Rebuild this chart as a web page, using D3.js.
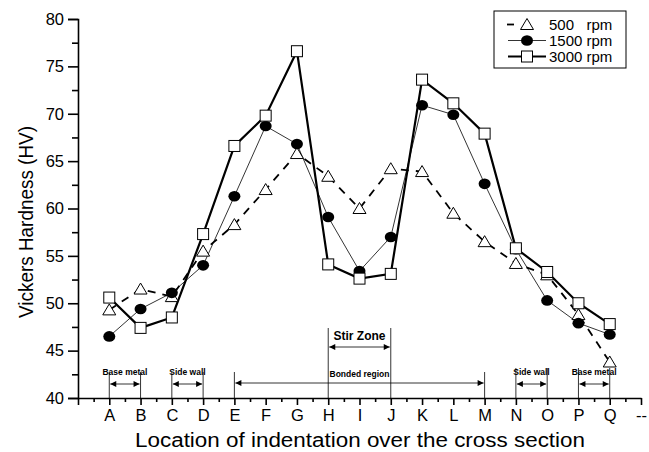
<!DOCTYPE html>
<html>
<head>
<meta charset="utf-8">
<script src="https://cdn.jsdelivr.net/npm/d3@7"></script>
<style>
  body { margin: 0; background: #fff; }
  svg { font-family: "Liberation Sans", Arial, sans-serif; }
  .note { font-weight: bold; }
</style>
</head>
<body>
<svg id="chart" width="649" height="452"></svg>
<script>
const locations = ['A','B','C','D','E','F','G','H','I','J','K','L','M','N','O','P','Q'];
const xTickLabels = ['', ...locations, '--'];
const rpm500 = [49.3, 51.5, 50.7, 55.5, 58.3, 62.0, 65.8, 63.4, 60.0, 64.2, 63.9, 59.5, 56.5, 54.2, 53.0, 48.8, 43.8];
const rpm1500 = [46.5, 49.4, 51.1, 54.0, 61.3, 68.7, 66.8, 59.1, 53.4, 57.0, 70.9, 69.9, 62.6, 55.7, 50.3, 47.9, 46.7];
const rpm3000 = [50.6, 47.4, 48.5, 57.3, 66.6, 69.8, 76.6, 54.1, 52.6, 53.1, 73.6, 71.1, 67.9, 55.8, 53.3, 50.0, 47.8];
const seriesNames = ['500   rpm', '1500 rpm', '3000 rpm'];
const yTicks = [40, 45, 50, 55, 60, 65, 70, 75, 80];
// zone annotations: [label, from, to]
const zones = [
  ['Base metal', 'A', 'B'],
  ['Side wall', 'C', 'D'],
  ['Bonded region', 'E', 'M'],
  ['Stir Zone', 'H', 'J'],
  ['Side wall', 'N', 'O'],
  ['Base metal', 'P', 'Q']
];

const svg = d3.select('#chart');
const x = d3.scaleLinear().domain([0, 18]).range([78, 641]);
const y = d3.scaleLinear().domain([40, 80]).range([398, 19]);
const xi = c => x(locations.indexOf(c) + 1);
const font = '"Liberation Sans", Arial, sans-serif';

// arrow heads
const defs = svg.append('defs');
defs.append('marker').attr('id', 'ah').attr('viewBox', '0 0 10 10')
  .attr('refX', 10).attr('refY', 5).attr('markerWidth', 9).attr('markerHeight', 6)
  .attr('markerUnits', 'userSpaceOnUse').attr('orient', 'auto-start-reverse')
  .append('path').attr('d', 'M0,0 L10,5 L0,10 Z').attr('fill', '#000');

// axes
const yAxis = svg.append('g').attr('transform', 'translate(78,0)');
yAxis.call(d3.axisLeft(y).tickValues(yTicks).tickSize(10).tickPadding(4))
  .call(g => g.selectAll('text').attr('font-size', 16.5).attr('font-family', font));
yAxis.append('g').call(d3.axisLeft(y).tickValues(d3.range(42.5, 80, 5)).tickSize(6).tickFormat(''))
  .call(g => g.select('.domain').remove());
const xAxis = svg.append('g').attr('transform', 'translate(0,398)');
xAxis.call(d3.axisBottom(x).tickValues(d3.range(0, 19)).tickSize(7).tickPadding(4)
  .tickFormat(i => xTickLabels[i]).tickSizeOuter(0))
  .call(g => g.selectAll('text').attr('font-size', 16.5).attr('font-family', font));
xAxis.append('g').call(d3.axisBottom(x).tickValues(d3.range(0.5, 18, 1)).tickSize(4).tickFormat(''))
  .call(g => g.select('.domain').remove());
svg.selectAll('.domain, .tick line').attr('stroke', '#000').attr('stroke-width', 1.6);

svg.append('text').attr('transform', 'translate(33,222) rotate(-90)')
  .attr('text-anchor', 'middle').attr('font-size', 20)
  .attr('textLength', 192).attr('lengthAdjust', 'spacingAndGlyphs')
  .text('Vickers Hardness (HV)');
svg.append('text').attr('x', 360).attr('y', 447)
  .attr('text-anchor', 'middle').attr('font-size', 20)
  .attr('textLength', 450).attr('lengthAdjust', 'spacingAndGlyphs')
  .text('Location of indentation over the cross section');

// zone annotations
zones.forEach(([label, a, b]) => {
  const x1 = xi(a), x2 = xi(b);
  const stir = label === 'Stir Zone';
  const bonded = label === 'Bonded region';
  const top = stir ? 328 : bonded ? 372 : (a === 'A' || a === 'C') ? 372 : 368;
  const ay = stir ? 347 : bonded ? 383 : 384;
  const ty = stir ? 340 : bonded ? 377 : 375;
  [x1, x2].forEach(xx => {
    svg.append('line').attr('x1', xx).attr('x2', xx).attr('y1', top).attr('y2', 398)
      .attr('stroke', '#000').attr('stroke-width', 0.8);
  });
  svg.append('line').attr('x1', x1 + 1).attr('x2', x2 - 1).attr('y1', ay).attr('y2', ay)
    .attr('stroke', '#000').attr('stroke-width', 0.8)
    .attr('marker-start', 'url(#ah)').attr('marker-end', 'url(#ah)');
  svg.append('text').attr('class', 'note').attr('x', (x1 + x2) / 2).attr('y', ty)
    .attr('text-anchor', 'middle').attr('font-size', stir ? 12 : 8.5).text(label);
});

// series
const series = [
  { name: seriesNames[0], values: rpm500, width: 1.8, dash: '8,7', shape: 'tri' },
  { name: seriesNames[1], values: rpm1500, width: 0.8, dash: null, shape: 'circle' },
  { name: seriesNames[2], values: rpm3000, width: 2.2, dash: null, shape: 'square' }
];
const line = d3.line().x((d, i) => x(i + 1)).y(d => y(d));

const drawMarker = (g, shape, cx, cy) => {
  if (shape === 'tri') {
    g.append('path').attr('d', `M${cx - 6.5},${cy + 5} L${cx + 6.5},${cy + 5} L${cx},${cy - 6} Z`)
      .attr('fill', '#fff').attr('stroke', '#000').attr('stroke-width', 1);
  } else if (shape === 'circle') {
    g.append('ellipse').attr('cx', cx).attr('cy', cy).attr('rx', 6).attr('ry', 5.3).attr('fill', '#000');
  } else {
    g.append('rect').attr('x', cx - 5.5).attr('y', cy - 5.5).attr('width', 11).attr('height', 11)
      .attr('fill', '#fff').attr('stroke', '#000').attr('stroke-width', 1);
  }
};

series.forEach(s => {
  svg.append('path').datum(s.values).attr('d', line)
    .attr('fill', 'none').attr('stroke', '#000').attr('stroke-width', s.width)
    .attr('stroke-dasharray', s.dash);
});
series.forEach(s => {
  const g = svg.append('g');
  s.values.forEach((v, i) => drawMarker(g, s.shape, x(i + 1), y(v)));
});

// legend
const lg = svg.append('g');
lg.append('rect').attr('x', 494).attr('y', 11).attr('width', 132).attr('height', 57)
  .attr('fill', '#fff').attr('stroke', '#000').attr('stroke-width', 1);
series.forEach((s, i) => {
  const ly = 24.5 + i * 16;
  if (s.dash) {
    lg.append('line').attr('x1', 507).attr('x2', 514).attr('y1', ly).attr('y2', ly)
      .attr('stroke', '#000').attr('stroke-width', s.width);
  } else {
    lg.append('line').attr('x1', 508).attr('x2', 546).attr('y1', ly).attr('y2', ly)
      .attr('stroke', '#000').attr('stroke-width', s.width);
  }
  drawMarker(lg, s.shape, 527, ly);
  lg.append('text').attr('x', 549).attr('y', ly + 5).attr('font-size', 15)
    .attr('xml:space', 'preserve').style('white-space', 'pre').text(s.name);
});
</script>
</body>
</html>
